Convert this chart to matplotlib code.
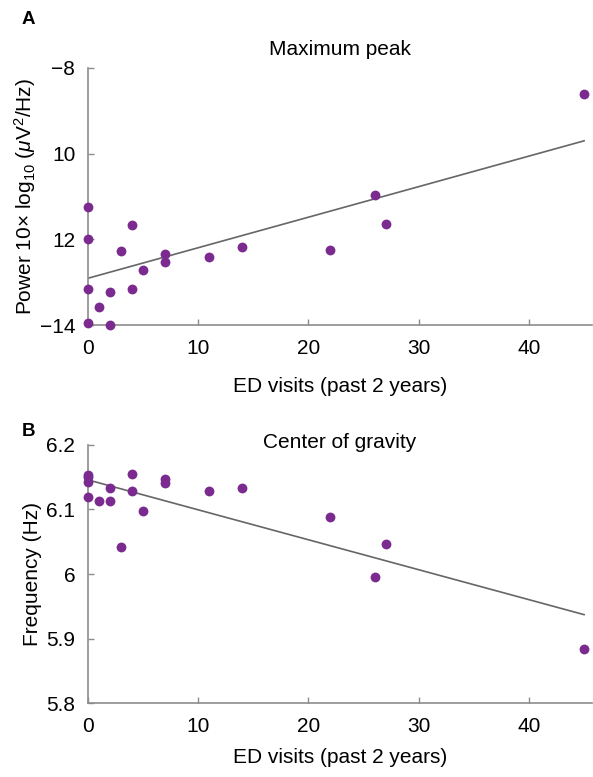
import matplotlib
matplotlib.use("Agg")
import matplotlib.pyplot as plt

plt.rcParams['font.family'] = ['Liberation Sans', 'DejaVu Sans']
plt.rcParams['mathtext.fontset'] = 'custom'
plt.rcParams['mathtext.rm'] = 'Liberation Sans'
plt.rcParams['mathtext.it'] = 'Liberation Sans:italic'

# ED visits (past 2 years) per subject
ed_visits = [0, 0, 0, 0, 1, 2, 2, 3, 4, 4, 5, 7, 7, 11, 14, 22, 26, 27, 45]

# A: maximum peak power
peak_power = [-11.24, -12.0, -13.17, -13.95, -13.58, -13.23, -14.0, -12.28,
              -11.67, -13.15, -12.71, -12.35, -12.54, -12.42, -12.19, -12.24,
              -10.97, -11.64, -8.61]
peak_fit_x = [0, 45]
peak_fit_y = [-12.91, -9.70]

# B: center of gravity frequency
cog_visits = [0, 0, 0, 0, 1, 2, 2, 3, 4, 4, 5, 7, 7, 11, 14, 22, 26, 27, 45]
cog_freq = [6.154, 6.150, 6.143, 6.119, 6.113, 6.133, 6.113, 6.042, 6.155,
            6.129, 6.098, 6.148, 6.141, 6.129, 6.133, 6.088, 5.995, 6.046, 5.883]
cog_fit_x = [0, 45]
cog_fit_y = [6.146, 5.937]

x_ticks = [0, 10, 20, 30, 40]
peak_ticks = [-8, -10, -12, -14]
peak_tick_labels = ['\u22128', '10', '12', '\u221214']
cog_ticks = [5.8, 5.9, 6.0, 6.1, 6.2]
cog_tick_labels = ['5.8', '5.9', '6', '6.1', '6.2']

purple = '#7B2B8F'
grey = '#8c8c8c'
fs = 15

fig = plt.figure(figsize=(5.93, 7.77), dpi=100)
ax1 = fig.add_axes([0.148, 0.5817, 0.85, 0.3308])
ax2 = fig.add_axes([0.148, 0.0952, 0.85, 0.3321])


def style(ax, xpad):
    for s in ['top', 'right']:
        ax.spines[s].set_visible(False)
    for s in ['left', 'bottom']:
        ax.spines[s].set_color(grey)
        ax.spines[s].set_linewidth(1.2)
    ax.tick_params(direction='in', length=4, width=1, color=grey,
                   labelsize=fs)
    ax.tick_params(axis='x', pad=10)
    ax.tick_params(axis='y', pad=9)
    ax.set_xlim(0, 45.7)
    ax.set_xticks(x_ticks)
    ax.set_xlabel('ED visits (past 2 years)', fontsize=fs, labelpad=xpad)


ax1.scatter(ed_visits, peak_power, s=50, color=purple, zorder=3,
            clip_on=False, linewidths=0)
ax1.plot(peak_fit_x, peak_fit_y, color='#666666', lw=1.2)
style(ax1, 14)
ax1.set_ylim(-14, -8)
ax1.set_yticks(peak_ticks)
ax1.set_yticklabels(peak_tick_labels)
ax1.set_ylabel(r'Power 10$\times$ log$_{10}$ ($\mu$V$^2$/Hz)', fontsize=fs,
               labelpad=1)
ax1.set_title('Maximum peak', fontsize=fs, pad=9)

ax2.scatter(cog_visits, cog_freq, s=50, color=purple, zorder=3,
            clip_on=False, linewidths=0)
ax2.plot(cog_fit_x, cog_fit_y, color='#666666', lw=1.2)
style(ax2, 9)
ax2.set_ylim(5.8, 6.2)
ax2.set_yticks(cog_ticks)
ax2.set_yticklabels(cog_tick_labels)
ax2.set_ylabel('Frequency (Hz)', fontsize=fs, labelpad=3)
ax2.text(0.5, 1.01, 'Center of gravity', transform=ax2.transAxes,
         ha='center', va='center', fontsize=fs)

fig.text(0.037, 0.975, 'A', fontsize=13.5, fontweight='bold', va='center')
fig.text(0.037, 0.445, 'B', fontsize=13.5, fontweight='bold', va='center')

fig.savefig('out.png', dpi=100)
